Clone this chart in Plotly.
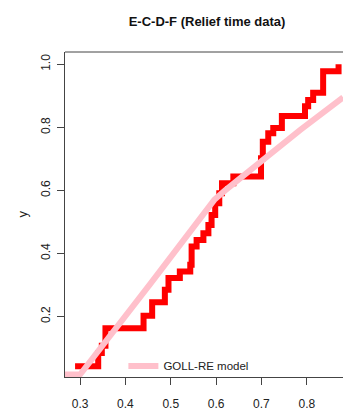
import plotly.graph_objects as go

# ECDF step vertices (x where each level starts, ECDF level)
ecdf_x = [0.289, 0.340, 0.348, 0.356, 0.440, 0.459, 0.487, 0.495, 0.520, 0.543,
          0.546, 0.557, 0.572, 0.583, 0.590, 0.598, 0.607, 0.613, 0.638, 0.699,
          0.703, 0.715, 0.726, 0.745, 0.796, 0.803, 0.814, 0.836, 0.870]
ecdf_y = [0.042, 0.084, 0.107, 0.163, 0.202, 0.245, 0.285, 0.322, 0.343, 0.364,
          0.422, 0.443, 0.464, 0.490, 0.522, 0.559, 0.591, 0.623, 0.644, 0.702,
          0.754, 0.781, 0.798, 0.836, 0.867, 0.887, 0.910, 0.978, 1.000]

# GOLL-RE model fitted CDF
model_x = [0.2668, 0.300, 0.454, 0.575, 0.596, 0.620, 0.701, 0.785, 0.880]
model_y = [0.016, 0.016, 0.302, 0.535, 0.570, 0.600, 0.696, 0.791, 0.895]

x_ticks = [0.3, 0.4, 0.5, 0.6, 0.7, 0.8]
y_ticks = [0.2, 0.4, 0.6, 0.8, 1.0]

FONT = "Liberation Sans Narrow, Arial Narrow, Liberation Sans, Arial, sans-serif"
AX = "#444444"

fig = go.Figure()
fig.add_trace(go.Scatter(x=ecdf_x, y=ecdf_y, mode="lines", line=dict(color="#ff0000", width=6, shape="hv"),
                         showlegend=False, name="ECDF"))
fig.add_trace(go.Scatter(x=model_x, y=model_y, mode="lines", line=dict(color="#ffc0cb", width=6),
                         name="GOLL-RE model"))

fig.update_layout(
    width=343, height=415,
    margin=dict(l=65, r=0, t=52, b=38),
    paper_bgcolor="white", plot_bgcolor="white",
    font=dict(family=FONT, size=12, color="#222222"),
    title=dict(text="<b>E-C-D-F (Relief time data)</b>", x=0.511, xref="paper", xanchor="center",
               y=1 - 21 / 415, yanchor="middle", font=dict(family=FONT, size=13, color="#111111")),
    xaxis=dict(range=[0.2668, 0.8798], tickvals=x_ticks, ticktext=[f"{v:.1f}" for v in x_ticks],
               showgrid=False, zeroline=False, showline=True, linecolor=AX, linewidth=1,
               ticks="outside", ticklen=7, tickcolor=AX, tickwidth=1, ticklabelstandoff=9,
               tickfont=dict(size=12)),
    yaxis=dict(range=[0.008, 1.039], tickvals=y_ticks, ticktext=[f"{v:.1f}" for v in y_ticks],
               showgrid=False, zeroline=False, showline=True, linecolor=AX, linewidth=1,
               ticks="outside", ticklen=7, tickcolor=AX, tickwidth=1, tickangle=-90,
               ticklabelstandoff=2, tickfont=dict(size=12)),
    legend=dict(x=0.21, y=0.034, xanchor="left", yanchor="middle", bgcolor="rgba(0,0,0,0)",
                font=dict(family=FONT, size=11.5, color="#222222")),
    shapes=[dict(type="line", xref="paper", yref="paper", x0=0, x1=1, y0=1, y1=1,
                 line=dict(color=AX, width=1))],
    annotations=[dict(text="y", xref="paper", yref="paper", x=(22 - 65) / 278, y=0.5,
                      xanchor="center", yanchor="middle", textangle=-90, showarrow=False,
                      font=dict(family=FONT, size=13, color="#222222"))],
)

fig.write_html("out.html")
